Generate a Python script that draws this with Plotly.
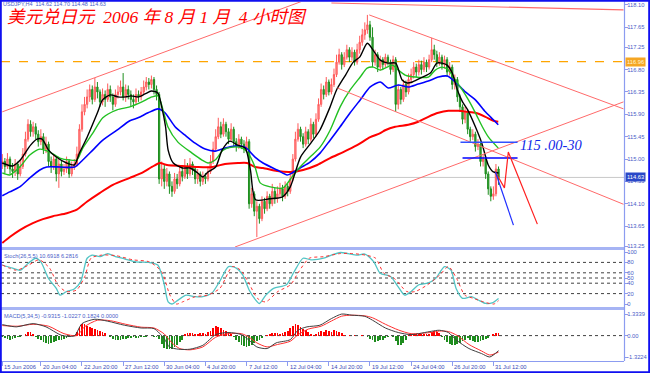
import plotly.graph_objects as go

# ---------------- DATA ----------------
closes = [114.95,114.85,115.00,114.80,114.75,114.90,114.70,114.85,115.10,115.40,
          115.70,115.55,115.65,115.50,115.35,115.45,115.20,115.30,114.95,114.85,
          115.00,114.70,114.90,114.75,114.80,114.95,114.70,114.85,114.90,115.10,
          115.60,115.95,116.10,116.25,116.40,116.20,116.45,116.35,116.15,116.30,
          116.20,116.40,116.25,116.10,116.30,116.35,116.45,116.25,116.40,116.30,
          116.20,116.15,116.30,116.25,116.35,116.45,116.55,116.50,116.60,116.40,
          116.30,114.60,114.80,114.55,114.70,114.45,114.35,114.60,114.50,114.75,
          114.65,114.85,114.70,114.90,114.80,114.60,114.70,114.55,114.65,114.60,
          114.75,114.95,115.20,115.45,115.65,115.50,115.70,115.55,115.40,115.60,
          115.35,115.25,115.40,115.30,115.20,115.35,114.10,114.30,113.95,114.05,
          113.80,114.15,114.00,114.25,114.10,114.35,114.20,114.30,114.40,114.25,
          114.45,114.35,114.60,115.00,115.40,115.60,115.45,115.30,115.55,115.40,
          115.70,115.50,115.80,116.10,116.40,116.30,116.55,116.35,116.50,116.70,
          116.95,117.10,116.90,117.05,117.20,117.05,117.15,116.95,117.20,117.35,
          117.50,117.60,117.70,117.45,116.95,117.10,116.85,117.00,116.90,117.05,
          116.95,116.80,117.00,116.10,116.40,116.20,116.50,116.35,116.60,116.70,
          116.85,116.75,116.90,116.80,116.95,116.85,117.00,117.20,117.10,116.95,
          117.05,116.90,117.00,116.75,116.85,116.50,116.60,116.25,116.05,115.80,
          115.95,115.60,115.45,115.50,115.25,115.30,114.95,115.00,114.70,114.40,
          114.25,114.30,114.80,114.63]
opens = [114.90] + closes[:-1]
highs = [115.10,115.02,115.12,115.05,114.92,115.00,114.95,114.98,115.22,115.55,
         115.80,115.78,115.75,115.72,115.58,115.60,115.52,115.45,115.35,115.05,
         115.10,115.05,115.00,114.98,114.90,115.05,115.00,114.95,115.00,115.25,
         115.70,116.10,116.25,116.40,116.50,116.48,116.63,116.55,116.40,116.42,
         116.38,116.52,116.48,116.32,116.40,116.48,116.58,116.73,116.50,116.48,
         116.38,116.30,116.42,116.38,116.45,116.58,116.65,116.63,116.68,116.65,
         116.48,116.35,114.95,114.88,114.82,114.75,114.55,114.72,114.70,114.88,
         114.85,115.00,114.92,115.02,114.95,114.85,114.80,114.75,114.75,114.72,
         114.85,115.08,115.35,115.60,115.83,115.75,115.82,115.75,115.62,115.72,
         115.65,115.42,115.50,115.45,115.38,115.45,115.40,114.42,114.35,114.15,
         114.10,114.25,114.22,114.35,114.30,114.50,114.42,114.45,114.52,114.48,
         114.55,114.50,114.72,115.10,115.55,115.72,115.65,115.52,115.65,115.60,
         115.82,115.75,115.92,116.22,116.52,116.48,116.65,116.60,116.62,116.82,
         117.10,117.22,117.15,117.15,117.30,117.25,117.25,117.20,117.32,117.48,
         117.62,117.75,117.90,117.78,117.65,117.20,117.15,117.08,117.05,117.12,
         117.10,117.00,117.08,117.05,116.50,116.45,116.60,116.58,116.72,116.82,
         116.95,116.92,117.00,116.98,117.05,117.00,117.10,117.44,117.30,117.18,
         117.15,117.10,117.08,117.05,116.95,116.90,116.70,116.65,116.30,116.10,
         116.05,116.00,115.65,115.60,115.55,115.40,115.35,115.10,115.05,114.75,
         114.45,114.45,114.90,114.85]
lows = [114.80,114.72,114.80,114.70,114.62,114.66,114.58,114.65,114.80,115.05,
        115.35,115.45,115.45,115.40,115.25,115.28,115.10,115.12,114.85,114.72,
        114.78,114.55,114.42,114.65,114.68,114.72,114.62,114.65,114.78,114.85,
        115.05,115.55,115.88,116.02,116.15,116.10,116.15,116.22,116.05,116.08,
        116.05,116.15,116.15,115.98,116.05,116.22,116.28,116.18,116.15,116.20,
        116.05,116.02,116.10,116.15,116.18,116.30,116.38,116.40,116.42,116.30,
        116.18,114.50,114.45,114.40,114.45,114.30,114.24,114.30,114.40,114.45,
        114.55,114.60,114.60,114.65,114.68,114.50,114.50,114.45,114.48,114.50,
        114.55,114.70,114.90,115.15,115.40,115.42,115.45,115.45,115.30,115.35,
        115.25,115.15,115.20,115.20,115.12,115.15,114.00,114.02,113.85,113.43,
        113.70,113.75,113.90,113.95,114.00,114.05,114.10,114.12,114.22,114.15,
        114.20,114.25,114.30,114.55,114.95,115.35,115.35,115.22,115.25,115.30,
        115.35,115.42,115.45,115.75,116.05,116.20,116.25,116.28,116.30,116.45,
        116.65,116.90,116.80,116.85,117.00,116.95,116.98,116.88,116.90,117.12,
        117.28,117.40,117.52,117.38,116.85,116.88,116.75,116.78,116.80,116.85,
        116.88,116.70,116.75,115.95,116.00,116.10,116.15,116.25,116.30,116.52,
        116.62,116.65,116.68,116.70,116.75,116.75,116.80,116.95,117.00,116.85,
        116.88,116.80,116.82,116.65,116.68,116.40,116.40,116.15,115.95,115.70,
        115.72,115.50,115.35,115.38,115.15,115.18,114.85,114.85,114.60,114.28,
        114.15,114.18,114.25,114.48]
bars = list(range(len(closes)))

# moving averages (bar index, price)
ma_black_x = [0,4,7,11,13.5,15.5,18,21,25,28,30,33,37,39,42,45,48,50,53,55.5,58,60.5,62,63.5,64.5,66.5,70,73,76,78,80,83,85.5,88.5,91.5,94.5,96.5,98.5,104,109,112,116,120,123.5,127.5,130,133.5,136.5,139,142,145,147,150,153,155.5,157.5,159.5,163.5,166.5,169,171,173,175,177,179,181,184,186.5,189,191,193]
ma_black_y = [114.92,114.86,114.98,115.28,115.40,115.40,115.18,115.04,114.92,114.88,115.12,115.44,115.93,116.19,116.29,116.25,116.25,116.27,116.25,116.31,116.37,116.33,116.05,115.65,115.18,114.92,114.82,114.82,114.72,114.64,114.74,114.84,115.18,115.36,115.28,115.22,114.78,114.18,114.20,114.24,114.44,115.04,115.32,115.58,116.05,116.39,116.69,116.95,117.05,117.33,117.13,116.99,116.93,116.93,116.59,116.53,116.55,116.65,116.73,116.93,116.93,116.89,116.73,116.39,116.15,115.99,115.65,115.32,114.88,114.74,114.72]
ma_green_x = [0,2.9,6.8,10.7,14.6,18.5,22.4,26.3,29,31.3,35.2,39.1,44.6,49.6,54.3,58.2,60.6,62.5,64.4,68.3,73.8,77.7,80,82.8,85.9,89.4,93.3,95.6,98.3,100.3,104.2,109.2,112.7,115.8,119.7,123.6,127.5,131.4,135.3,139.2,141.9,144.3,147,151.7,154,156.7,160.6,165.7,168.4,171.1,173.5,176.2,178.9,181.3,184,186.7,189.1,192.9]
ma_green_y = [114.72,114.68,114.84,115.08,115.20,115.14,115.02,114.98,114.98,115.22,115.52,115.83,115.99,116.05,116.15,116.25,116.27,115.99,115.65,115.34,115.12,114.98,114.92,114.98,115.18,115.24,115.22,115.12,114.84,114.52,114.44,114.42,114.64,114.84,115.04,115.24,115.58,116.05,116.39,116.65,116.83,116.85,116.79,116.89,116.79,116.69,116.65,116.65,116.79,116.85,116.79,116.59,116.39,116.19,115.93,115.65,115.44,115.22]
ma_blue_x = [0,2.9,6.8,10.7,14.6,17.3,22.4,28.2,31.3,35.2,39.1,44.6,49.6,52.8,56.7,60.6,63.3,67.2,71.1,75,78.9,82.8,86.6,90.5,94.4,98.3,101.4,106.9,110.8,112.7,115.8,119.7,123.6,127.5,131.4,135.3,139.2,143.1,147,150.1,154,157.9,161.8,165.7,169.6,173.1,176.2,180.1,184,187.9,191,192.9]
ma_blue_y = [114.26,114.34,114.44,114.62,114.78,114.84,114.84,114.84,114.98,115.18,115.38,115.58,115.77,115.83,115.93,116.01,115.93,115.65,115.48,115.32,115.20,115.16,115.22,115.26,115.24,115.04,114.92,114.78,114.68,114.72,114.82,114.94,115.12,115.38,115.65,115.93,116.19,116.45,116.55,116.43,116.49,116.45,116.51,116.57,116.65,116.67,116.55,116.35,116.19,115.95,115.79,115.69]
ma_red_x = [0,2.9,6.8,11.9,15.8,19.7,25.1,29,32.9,38,43,49.6,54.3,58.2,61.3,64.1,69.9,76.1,81.6,86.6,91.7,95.2,98.3,101.4,106.9,112,117,122.5,127.5,132.6,138,143.1,147,148.9,152.8,157.9,161.8,165.7,169.6,173.5,177.4,180.9,184,187.9,191,192.9]
ma_red_y = [113.31,113.43,113.57,113.71,113.79,113.85,113.91,113.98,114.14,114.32,114.48,114.62,114.72,114.84,114.92,114.88,114.86,114.84,114.84,114.90,114.92,114.92,114.84,114.82,114.76,114.74,114.78,114.88,115.02,115.14,115.28,115.44,115.52,115.58,115.65,115.69,115.75,115.85,115.93,115.97,115.97,115.95,115.93,115.85,115.77,115.75]

# stochastic (26,5,5)
stoch_k_x = [0,4,7,10,13,15,18,21,22.5,25,28,30.5,33,35,38,41,44,47.5,52,57,60.5,63,64.5,66,68.5,71.5,75,78,81.5,84.5,88,91,93.5,96,98.5,100,102.5,105.5,110.5,113.5,117,120,125,128,131.5,134.5,138,141,144.5,147,151,154,156.5,159,162,165.5,168.5,172,174.5,176.5,179,182.5,185,188,190.5,193]
stoch_k = [75,69,65,78,88,81,49,30,17,24,29,43,88,94,91,97,91,87,81,80,75,37,4,0,8,17,14,14,21,43,72,69,56,27,8,1,17,30,37,62,88,85,88,94,99,97,94,96,81,59,53,33,17,24,37,40,49,72,65,30,11,14,8,1,2,10.69]
stoch_d_x = [0,5.5,10.3,14.3,18.4,21.6,24.8,28.9,32.1,34.5,38.6,44.2,50.7,57.2,62,65.2,67.7,70.1,75,79.8,84.6,89.5,92.7,95.9,99.2,102.4,107.2,112.1,115.3,119.4,125,131.5,136.3,141.2,145.2,148.4,152.5,157.3,160.6,165.4,170.2,173.5,176.7,179.9,183.2,187.2,191.2,193]
stoch_d = [75,65,75,85,69,37,24,27,53,88,94,93,85,81,62,17,0,4,14,17,30,72,65,40,11,4,24,37,62,88,91,97,97,94,88,59,49,24,24,37,56,72,49,17,11,4,0,6.28]
stoch_levels = [80, 60, 50, 40, 20]
stoch_ticks = [100, 80, 60, 50, 40, 20, 0]

# MACD (5,34,5)
macd_x = [0,5.5,12,17,23,28,31,36,41,47.5,54,59,63,65,68.5,73,78,83,88,93,96,99,103,106.5,112,115,118.5,123.5,128,132,136,141,144,149,154,159,167,170,173.5,176.7,181.5,186.4,189.6,193]
macd_main = [0.68,0.54,0.74,0.54,0.02,-0.02,0.74,1.01,0.89,0.64,0.47,0.43,-0.19,-0.70,-0.84,-0.84,-0.60,0.06,0.19,0.06,-0.29,-0.70,-0.80,-0.45,-0.25,0.33,0.54,0.64,1.05,1.33,1.26,1.19,0.95,0.47,0.19,0.06,0.27,0.33,0.19,-0.29,-0.80,-1.11,-1.32,-0.9315]
macd_sig_x = [0,6,12,18,24,29,32,37,42,48,54,59,63,66,69,73,78,83,88,93,96,99,103,107,112,115,119,124,128,132,136,141,144,149,154,159,167,170,173.5,177,181.5,186.4,189.6,193]
macd_sig = [0.62,0.58,0.70,0.58,0.12,0.0,0.55,0.95,0.92,0.70,0.52,0.47,0.10,-0.45,-0.80,-0.88,-0.70,-0.10,0.12,0.12,-0.10,-0.45,-0.70,-0.55,-0.35,0.05,0.40,0.58,0.90,1.20,1.26,1.22,1.10,0.70,0.35,0.12,0.20,0.28,0.25,0.0,-0.55,-0.95,-1.20,-1.0227]
macd_hist = ([-0.10,-0.15,-0.20,-0.25,-0.20,-0.15,-0.10,-0.08,-0.05] +
             [0.10,0.20,0.22,0.12] +
             [-0.10,-0.20,-0.30,-0.40,-0.45,-0.50,-0.48,-0.42,-0.35,-0.30,-0.25,-0.20,-0.15,-0.10,-0.05] +
             [0.05,0.25,0.55,0.74,0.70,0.62,0.55,0.45,0.40,0.35,0.30,0.25,0.15] +
             [-0.05,-0.10,-0.20,-0.25,-0.29,-0.25,-0.20,-0.18,-0.15,-0.12,-0.10,-0.15,-0.12,-0.10,-0.08,-0.06,-0.05,-0.04,-0.08,-0.10,-0.20] +
             [-0.50,-0.75,-0.85,-0.85,-0.80,-0.70,-0.55,-0.40,-0.25] +
             [0.08,0.15,0.19,0.15,0.10,0.12,0.18,0.15,0.10] +
             [0.20,0.30,0.45,0.58,0.55,0.45,0.35,0.30,0.20,0.10] +
             [-0.10,-0.25,-0.40,-0.55,-0.65,-0.70,-0.65,-0.55,-0.45,-0.35,-0.25,-0.15,-0.05] +
             [0.05,0.10,0.15,0.19,0.15,0.12,0.15,0.20] +
             [0.30,0.45,0.60,0.70,0.65,0.55,0.40,0.35,0.25] +
             [0.10,0.05,0.12] +
             [0.20,0.30,0.25,0.33,0.28,0.22,0.33,0.30,0.20,0.15,0.05] +
             [-0.03,0.02,-0.05,0.03,-0.04,-0.02,0.02,-0.05,-0.08] +
             [-0.20,-0.30,-0.39,-0.35,-0.30,-0.25,-0.15,-0.08] +
             [-0.05,-0.10] +
             [-0.35,-0.55,-0.60,-0.45,-0.25] +
             [0.05,0.10,0.12,0.10,0.12,0.10,0.08,0.12,0.10] +
             [0.20,0.27,0.25,0.15] +
             [-0.10,-0.25,-0.40,-0.50,-0.60,-0.55,-0.50,-0.45,-0.35,-0.25,-0.15] +
             [-0.25,-0.35,-0.40,-0.38,-0.35,-0.30,-0.22,-0.15,-0.05] +
             [0.10,0.15,0.18])

# hand-drawn lines (bar index, price)
chan_up_top_x, chan_up_top_y = [0, 120], [115.95, 118.24]
chan_up_bot_x, chan_up_bot_y = [90.5, 241.6], [113.23, 116.15]
top_line_x, top_line_y = [128, 241.6], [118.14, 118.00]
desc_hi_x, desc_hi_y = [142.7, 241.6], [117.90, 116.01]
desc_lo_x, desc_lo_y = [130.3, 241.6], [116.43, 114.09]
blue_lvl1_x, blue_lvl1_y = [178.2, 200.4], [115.34, 115.34]
blue_lvl2_x, blue_lvl2_y = [179.0, 200.4], [115.02, 115.02]
proj_red_x, proj_red_y = [191.8, 195.3, 196.8, 208.1], [114.74, 114.42, 115.14, 113.69]
proj_blue_x, proj_blue_y = [191.8, 198.8], [114.74, 113.67]
note_x, note_y, note_text = 200.4, 115.28, "115 .00-30"
level_orange = 116.96
last_price = 114.63

price_ticks = [118.10, 117.65, 117.25, 116.80, 116.35, 115.90, 115.45, 115.00, 114.55, 114.10, 113.65, 113.25]
macd_ticks = [1.3339, 0.0, -1.3224]
macd_ticktext = ["1.3339", "0.00", "-1.3224"]
x_tick_bars = [0, 15, 31, 47, 63, 79, 95, 111, 127, 143, 159, 175, 191]
x_tick_labels = ["15 Jun 2006", "20 Jun 04:00", "22 Jun 20:00", "27 Jun 12:00", "30 Jun 04:00",
                 "4 Jul 20:00", "7 Jul 12:00", "12 Jul 04:00", "14 Jul 20:00", "19 Jul 12:00",
                 "24 Jul 04:00", "26 Jul 20:00", "31 Jul 12:00"]

title_text = "美元兑日元  2006 年 8 月 1 月  4 小时图"
info_text = "USDJPY,H4  114.62 114.70 114.48 114.63"
stoch_text = "Stoch(26,5,5) 10.6918 6.2816"
macd_text = "MACD(5,34,5) -0.9315 -1.0227 0.1824 0.0000"

# ---------------- FIGURE ----------------
W, H = 650, 373
AX = "#8c9cf0"
TX = "#4a5ec8"
SEP = "#a6b4f4"
FONT = "Liberation Sans"

def py(y):  # pixel row -> paper fraction
    return (H - y) / H

fig = go.Figure()

fig.add_trace(go.Candlestick(
    x=bars, open=opens, high=highs, low=lows, close=closes,
    increasing=dict(line=dict(color="#ff5a5a", width=1), fillcolor="#ff9a9a"),
    decreasing=dict(line=dict(color="#1e8e1e", width=1), fillcolor="#36a636"),
    whiskerwidth=0, xaxis="x", yaxis="y", hoverinfo="skip", showlegend=False))

def line(x, y, color, width, yaxis="y", dash=None, shape="linear"):
    fig.add_trace(go.Scatter(x=x, y=y, mode="lines", xaxis="x", yaxis=yaxis,
                             line=dict(color=color, width=width, dash=dash, shape=shape,
                                       smoothing=0.7 if shape == "spline" else None),
                             hoverinfo="skip", showlegend=False))

line(ma_red_x, ma_red_y, "#ff0000", 2, shape="spline")
line(ma_blue_x, ma_blue_y, "#0000ff", 1.6, shape="spline")
line(ma_green_x, ma_green_y, "#22c022", 1.4, shape="spline")
line(ma_black_x, ma_black_y, "#000000", 1.4, shape="spline")

# trend lines / projections
line(chan_up_top_x, chan_up_top_y, "#ff6a6a", 1)
line(chan_up_bot_x, chan_up_bot_y, "#ff6a6a", 1)
line(top_line_x, top_line_y, "#ff6a6a", 1.2)
line(desc_hi_x, desc_hi_y, "#ff6a6a", 1)
line(desc_lo_x, desc_lo_y, "#ff6a6a", 1)
line(blue_lvl1_x, blue_lvl1_y, "#3050ff", 1.5)
line(blue_lvl2_x, blue_lvl2_y, "#0000ff", 1.5)
line(proj_red_x, proj_red_y, "#ff2020", 1.2)
line(proj_blue_x, proj_blue_y, "#2030ff", 1.2)

# stochastic
line(stoch_k_x, stoch_k, "#52c4c4", 1.3, yaxis="y2", shape="spline")
line(stoch_d_x, stoch_d, "#ff3030", 1, yaxis="y2", dash="dot", shape="spline")

# MACD
fig.add_trace(go.Bar(x=bars, y=macd_hist, xaxis="x", yaxis="y3", width=0.7,
                     marker=dict(color=["#ff0000" if v >= 0 else "#1e8c1e" for v in macd_hist],
                                 line=dict(width=0)),
                     hoverinfo="skip", showlegend=False))
line(macd_sig_x, macd_sig, "#ff3030", 1, yaxis="y3", shape="spline")
line(macd_x, macd_main, "#404040", 1, yaxis="y3", shape="spline")

shapes = []
shapes.append(dict(type="line", xref="x domain", yref="y", x0=0, x1=1, y0=level_orange, y1=level_orange,
                   line=dict(color="#ffa500", width=1.2, dash="dash"), layer="below"))
shapes.append(dict(type="line", xref="x domain", yref="y", x0=0, x1=1, y0=last_price, y1=last_price,
                   line=dict(color="#c8c8c8", width=1), layer="below"))
for lv in stoch_levels:
    shapes.append(dict(type="line", xref="x domain", yref="y2", x0=0, x1=1, y0=lv, y1=lv,
                       line=dict(color="#404040", width=1, dash="dot"), layer="below"))
shapes.append(dict(type="line", xref="x domain", yref="y3", x0=0, x1=1, y0=0, y1=0,
                   line=dict(color="#404040", width=1, dash="dot"), layer="below"))
shapes.append(dict(type="line", xref="paper", yref="paper", x0=0, x1=624 / W, y0=py(248.5), y1=py(248.5),
                   line=dict(color=SEP, width=3)))
shapes.append(dict(type="line", xref="paper", yref="paper", x0=0, x1=624 / W, y0=py(308.5), y1=py(308.5),
                   line=dict(color=SEP, width=3)))
shapes.append(dict(type="line", xref="paper", yref="paper", x0=624.5 / W, x1=624.5 / W, y0=py(361), y1=py(1),
                   line=dict(color=AX, width=1.2)))
shapes.append(dict(type="rect", xref="paper", yref="paper", x0=0.8 / W, x1=(W - 0.8) / W, y0=0.8 / H, y1=(H - 0.8) / H,
                   line=dict(color="#1010f0", width=2)))

annotations = []
annotations.append(dict(xref="paper", yref="paper", x=5 / W, y=py(16.5), xanchor="left", yanchor="middle",
                        text="<i>" + title_text + "</i>", showarrow=False,
                        font=dict(family="Liberation Serif, Noto Sans CJK SC", size=17.5, color="#ff0000")))
annotations.append(dict(xref="paper", yref="paper", x=1 / W, y=py(4), xanchor="left", yanchor="middle",
                        text=info_text, showarrow=False, font=dict(family=FONT, size=5.5, color=TX)))
annotations.append(dict(xref="paper", yref="paper", x=2 / W, y=py(255.5), xanchor="left", yanchor="middle",
                        text=stoch_text, showarrow=False, font=dict(family=FONT, size=5.6, color=TX)))
annotations.append(dict(xref="paper", yref="paper", x=2 / W, y=py(316), xanchor="left", yanchor="middle",
                        text=macd_text, showarrow=False, font=dict(family=FONT, size=5.6, color=TX)))
annotations.append(dict(xref="x", yref="y", x=note_x, y=note_y, xanchor="left", yanchor="middle",
                        text="<i>" + note_text + "</i>", showarrow=False,
                        font=dict(family="Liberation Serif", size=14.5, color="#1028e8")))
for b, t in zip(x_tick_bars, x_tick_labels):
    annotations.append(dict(xref="x", yref="paper", x=b, y=py(366.5), xanchor="left", yanchor="middle",
                            xshift=0, text=t, showarrow=False, font=dict(family=FONT, size=5.8, color="#3a4eb8")))
annotations.append(dict(xref="paper", yref="y", x=624.5 / W, y=level_orange, xanchor="left", yanchor="middle",
                        text="116.96", showarrow=False, bgcolor="#f5a623", borderpad=1,
                        font=dict(family=FONT, size=5.8, color="#fff4d0")))
annotations.append(dict(xref="paper", yref="y", x=624.5 / W, y=last_price, xanchor="left", yanchor="middle",
                        text="114.63", showarrow=False, bgcolor="#2a48c8", borderpad=1,
                        font=dict(family=FONT, size=5.8, color="#ffffff")))

yax_common = dict(side="right", anchor="x", showgrid=False, zeroline=False, showline=False,
                  ticks="outside", ticklen=3, tickcolor=AX, automargin=False, fixedrange=True,
                  ticklabelstandoff=-2,
                  tickfont=dict(family=FONT, size=5.8, color=TX))

fig.update_layout(
    width=W, height=H, margin=dict(l=0, r=0, t=0, b=0),
    paper_bgcolor="white", plot_bgcolor="white", showlegend=False, bargap=0, hovermode=False,
    xaxis=dict(domain=[1 / W, 624 / W], range=[-0.5, 241.8], anchor="y3", showgrid=False, zeroline=False,
               tickvals=x_tick_bars, ticks="outside", ticklen=4, tickcolor=AX, showticklabels=False,
               showline=True, linecolor=AX, linewidth=1, rangeslider=dict(visible=False),
               automargin=False, fixedrange=True),
    yaxis=dict(domain=[py(247), py(2)], range=[113.23, 118.16], tickvals=price_ticks,
               ticktext=["%.2f" % v for v in price_ticks], **yax_common),
    yaxis2=dict(domain=[py(307), py(250)], range=[-5.77, 103.85], tickvals=stoch_ticks,
                ticktext=[str(v) for v in stoch_ticks], **yax_common),
    yaxis3=dict(domain=[py(361), py(311)], range=[-1.569, 1.519], tickvals=macd_ticks,
                ticktext=macd_ticktext, **yax_common),
    shapes=shapes, annotations=annotations,
)

fig.write_html("out.html", config={"displayModeBar": False, "staticPlot": True},
               post_script="document.body.style.margin='0';document.body.style.overflow='hidden';")
